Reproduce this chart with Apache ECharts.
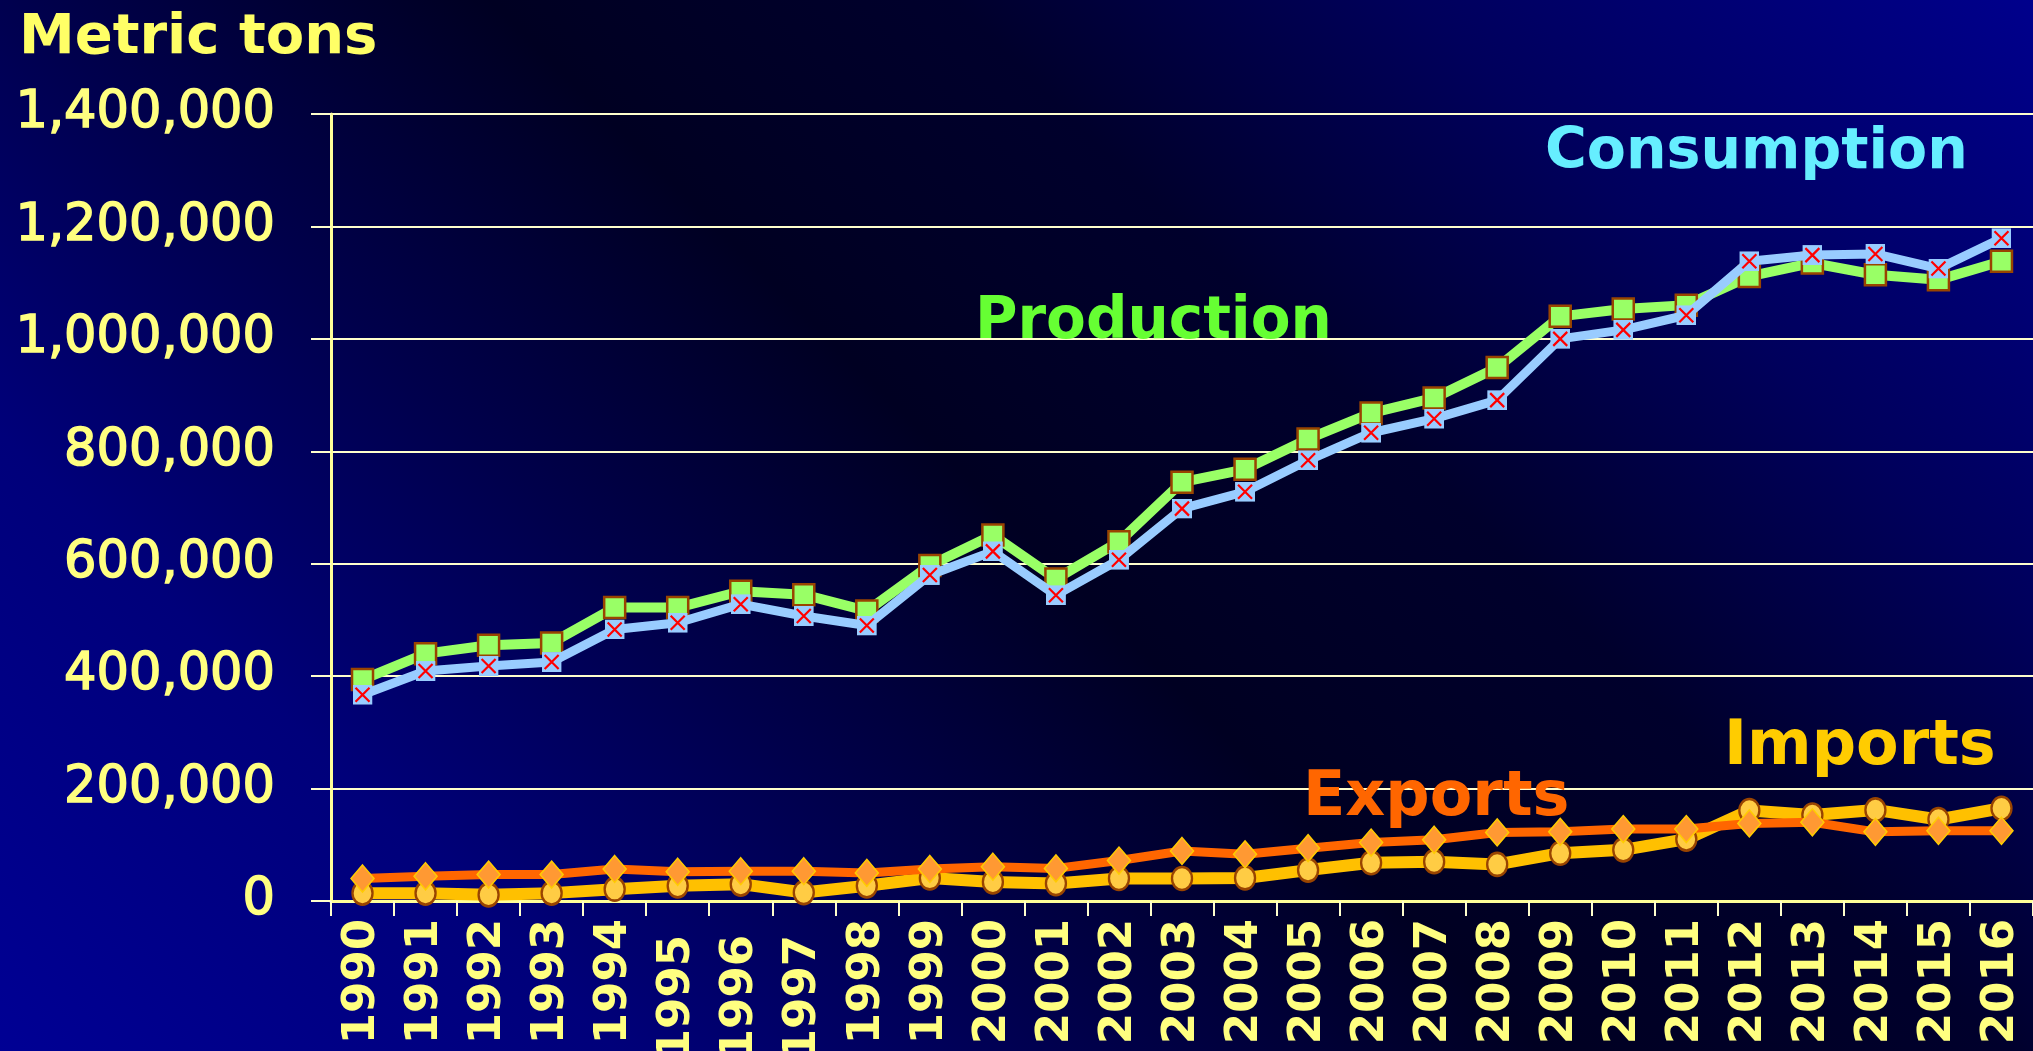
<!DOCTYPE html>
<html>
<head>
<meta charset="utf-8">
<title>Metric tons 1990-2016</title>
<script src="https://cdn.jsdelivr.net/npm/echarts@6/dist/echarts.min.js"></script>
<style>
  html, body { margin: 0; padding: 0; width: 100%; height: 100%; overflow: hidden; }
  #chart { width: 2033px; height: 1051px; }
</style>
</head>
<body>
<div id="chart"></div>
<script>
// Years on the category axis
const years = ['1990', '1991', '1992', '1993', '1994', '1995', '1996', '1997', '1998', '1999',
  '2000', '2001', '2002', '2003', '2004', '2005', '2006', '2007', '2008', '2009',
  '2010', '2011', '2012', '2013', '2014', '2015', '2016'];

// Metric tons per year
const production = [394000, 440000, 455000, 459000, 522000, 522000, 551000, 545000, 516000, 597000,
  651000, 573000, 639000, 745000, 768000, 822000, 868000, 895000, 949000, 1040000,
  1053000, 1060000, 1111000, 1135000, 1114000, 1105000, 1138000];
const consumption = [367000, 409000, 418000, 425000, 483000, 495000, 528000, 507000, 490000, 580000,
  622000, 544000, 607000, 698000, 728000, 784000, 833000, 858000, 891000, 1000000,
  1016000, 1042000, 1138000, 1149000, 1151000, 1125000, 1179000];
const exportsTons = [40000, 44000, 47000, 47000, 57000, 52000, 53000, 53000, 50000, 57000,
  61000, 58000, 72000, 89000, 83000, 94000, 104000, 109000, 122000, 123000,
  128000, 128000, 138000, 140000, 123000, 125000, 125000];
const importsTons = [14000, 14000, 11000, 14000, 21000, 27000, 30000, 15000, 27000, 41000,
  34000, 31000, 40000, 40000, 41000, 55000, 68000, 70000, 65000, 85000,
  91000, 110000, 161000, 153000, 162000, 145000, 165000];

// Value axis ticks
const yTicks = [0, 200000, 400000, 600000, 800000, 1000000, 1200000, 1400000];

// Year labels that sit a little lower than the rest
const loweredYears = ['1995', '1996', '1997'];

const tickColor = '#FFFF80';

const crossSvg = "<svg xmlns='http://www.w3.org/2000/svg' width='20' height='20'>" +
  "<rect x='0' y='0' width='20' height='20' fill='#99CCFF'/>" +
  "<path d='M3 3L17 17M17 3L3 17' stroke='#FF0000' stroke-width='2.2'/></svg>";
const crossSymbol = 'image://data:image/svg+xml;utf8,' + encodeURIComponent(crossSvg);

const chart = echarts.init(document.getElementById('chart'), null, { renderer: 'canvas' });

function seriesLabel(text, x, y, size, color) {
  return {
    type: 'text',
    z: 100,
    style: {
      x: x, y: y, text: text,
      font: 'bold ' + size + 'px "DejaVu Sans"',
      fill: color,
      align: 'left', verticalAlign: 'middle',
      textAlign: 'left', textVerticalAlign: 'middle'
    }
  };
}

const option = {
  animation: false,
  backgroundColor: {
    type: 'linear', global: true,
    x: 0, y: 1051, x2: 1542, y2: -491,
    colorStops: [
      { offset: 0, color: '#000094' },
      { offset: 0.2, color: '#00007a' },
      { offset: 0.35, color: '#00004c' },
      { offset: 0.5, color: '#000022' },
      { offset: 0.65, color: '#00002c' },
      { offset: 0.8, color: '#00005c' },
      { offset: 1, color: '#00008c' }
    ]
  },
  grid: { left: 331, right: 0, top: 114, bottom: 150, containLabel: false, outerBoundsMode: 'none' },
  graphic: [
    seriesLabel('Metric tons', 19, 38, 56, '#FFFF66'),
    seriesLabel('Consumption', 1545, 153, 57, '#66EEFF'),
    seriesLabel('Production', 975, 323, 58, '#66FF33'),
    seriesLabel('Exports', 1303, 799, 62, '#FF6600'),
    seriesLabel('Imports', 1724, 748, 62, '#FFCC00')
  ],
  xAxis: {
    type: 'category',
    data: years,
    boundaryGap: true,
    axisLine: { show: true, lineStyle: { color: '#FFFF99', width: 3 } },
    axisTick: { show: true, length: 15, lineStyle: { color: '#FFFFCC', width: 2 } },
    splitLine: { show: false },
    axisLabel: {
      interval: 0,
      rotate: 90,
      margin: 18,
      color: tickColor,
      fontFamily: 'DejaVu Sans',
      fontWeight: 'bold',
      fontSize: 45,
      formatter: function (v) {
        return loweredYears.indexOf(v) >= 0 ? '{low|' + v + '}' : v;
      },
      rich: {
        low: {
          color: tickColor, fontFamily: 'DejaVu Sans', fontWeight: 'bold', fontSize: 45,
          padding: [0, 16, 0, 0]
        }
      }
    }
  },
  yAxis: {
    type: 'value',
    min: yTicks[0],
    max: yTicks[yTicks.length - 1],
    interval: yTicks[1] - yTicks[0],
    axisLine: { show: true, lineStyle: { color: '#FFFF99', width: 3 } },
    axisTick: { show: true, length: 20, lineStyle: { color: '#FFFFCC', width: 2 } },
    splitLine: { show: true, lineStyle: { color: '#FFFFCC', width: 2 } },
    axisLabel: {
      margin: 56,
      color: tickColor,
      fontFamily: 'DejaVu Sans',
      fontSize: 51,
      textBorderColor: tickColor,
      textBorderWidth: 1.5,
      formatter: function (v) { return v.toLocaleString('en-US'); }
    }
  },
  series: [
    {
      name: 'Imports', type: 'line', data: importsTons, z: 2,
      lineStyle: { color: '#FFC000', width: 12 },
      symbol: 'circle', symbolSize: [20, 23],
      itemStyle: { color: '#FFCC44', borderColor: '#994400', borderWidth: 2.5 }
    },
    {
      name: 'Exports', type: 'line', data: exportsTons, z: 3,
      lineStyle: { color: '#FF6600', width: 9 },
      symbol: 'diamond', symbolSize: [23, 27],
      itemStyle: { color: '#FF9933', borderColor: '#FFCC00', borderWidth: 1.5 }
    },
    {
      name: 'Production', type: 'line', data: production, z: 4,
      lineStyle: { color: '#99FF66', width: 10 },
      symbol: 'rect', symbolSize: 21,
      itemStyle: { color: '#99FF66', borderColor: '#994400', borderWidth: 2.5 }
    },
    {
      name: 'Consumption', type: 'line', data: consumption, z: 5,
      lineStyle: { color: '#99CCFF', width: 9 },
      symbol: crossSymbol, symbolSize: 20,
      itemStyle: { color: '#99CCFF' }
    }
  ]
};

chart.setOption(option);
</script>
</body>
</html>
